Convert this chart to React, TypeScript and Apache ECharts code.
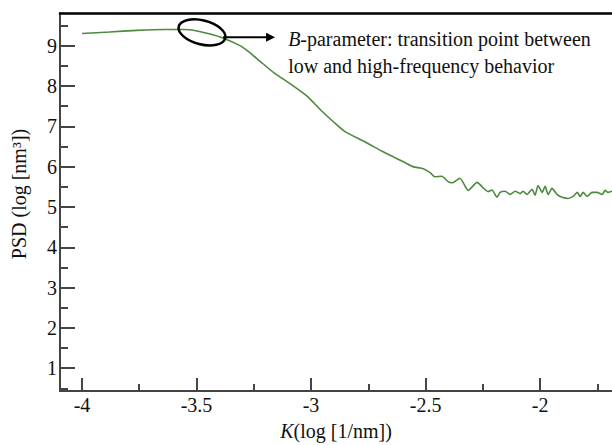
import React, { useEffect, useRef } from "react";
import * as echarts from "echarts";

const kValues = [
  -4.0, -3.88, -3.76, -3.64, -3.55, -3.52, -3.45, -3.38, -3.31, -3.27, -3.22, -3.16, -3.09, -3.02,
  -2.95, -2.9, -2.85, -2.76, -2.69, -2.64, -2.59, -2.555, -2.51, -2.48, -2.46, -2.43, -2.4, -2.384,
  -2.35, -2.314, -2.275, -2.253, -2.227, -2.21, -2.188, -2.175, -2.153, -2.131, -2.109, -2.087,
  -2.074, -2.057, -2.035, -2.022, -2.009, -1.991, -1.978, -1.965, -1.948, -1.926, -1.904, -1.878,
  -1.856, -1.838, -1.825, -1.812, -1.795, -1.773, -1.751, -1.729, -1.716, -1.703, -1.686,
];
const psdValues = [
  9.3, 9.34, 9.38, 9.4, 9.4, 9.39, 9.3, 9.18, 9.0, 8.84, 8.6, 8.32, 8.05, 7.76,
  7.36, 7.1, 6.86, 6.6, 6.38, 6.24, 6.1, 6.0, 5.95, 5.85, 5.75, 5.76, 5.62, 5.6,
  5.71, 5.41, 5.61, 5.5, 5.38, 5.42, 5.24, 5.36, 5.39, 5.31, 5.39, 5.33,
  5.39, 5.31, 5.44, 5.29, 5.53, 5.36, 5.51, 5.31, 5.46, 5.31, 5.24, 5.21,
  5.26, 5.36, 5.26, 5.36, 5.26, 5.36, 5.36, 5.31, 5.41, 5.36, 5.39,
];

const xMajorTicks = [-4, -3.5, -3, -2.5, -2];
const xMinorTicks = [-3.75, -3.25, -2.75, -2.25, -1.75];
const yMajorTicks = [1, 2, 3, 4, 5, 6, 7, 8, 9];
const yMinorTicks = [0.5, 1.5, 2.5, 3.5, 4.5, 5.5, 6.5, 7.5, 8.5, 9.5];

const X_MIN = -4.096;
const X_MAX = -1.686;
const Y_MIN = 0.435;
const Y_MAX = 9.81;

// annotation anchors (data coordinates)
const ellipseCenter = [-3.476, 9.33];
const arrowStart = [-3.384, 9.21];
const arrowEnd = [-3.157, 9.21];
const textLine1 = [-3.1, 9.17];
const textLine2 = [-3.1, 8.5];

const FONT = "'Liberation Serif', 'Times New Roman', serif";
const AXIS_COLOR = "#444";

export default function App() {
  const ref = useRef<HTMLDivElement>(null);
  useEffect(() => {
    if (!ref.current) return;
    const chart = echarts.init(ref.current, null, { renderer: "svg" });
    const data = kValues.map((k, i) => [k, psdValues[i]]);
    const baseX = { type: "value", min: X_MIN, max: X_MAX, splitLine: { show: false } };
    const baseY = { type: "value", min: Y_MIN, max: Y_MAX, splitLine: { show: false } };
    chart.setOption({
      animation: false,
      textStyle: { fontFamily: FONT },
      grid: { left: 60, top: 13, right: 0, bottom: 54, containLabel: false, outerBoundsMode: "none" },
      xAxis: [
        {
          ...baseX,
          position: "bottom",
          axisLine: { show: true, lineStyle: { color: AXIS_COLOR, width: 2 } },
          axisTick: { show: true, inside: true, length: 13, customValues: xMajorTicks, lineStyle: { color: AXIS_COLOR, width: 2 } },
          axisLabel: {
            show: true,
            customValues: xMajorTicks,
            formatter: (v: number) => String(v),
            fontFamily: FONT,
            fontSize: 20,
            color: "#111",
            margin: 4,
          },
          name: "{i|K}(log [1/nm])",
          nameLocation: "middle",
          nameGap: 30,
          nameTextStyle: {
            fontFamily: FONT,
            fontSize: 20,
            color: "#111",
            rich: { i: { fontStyle: "italic", fontFamily: FONT, fontSize: 20, color: "#111" } },
          },
        },
        {
          ...baseX,
          position: "bottom",
          axisLine: { show: false },
          axisTick: { show: true, inside: true, length: 7, customValues: xMinorTicks, lineStyle: { color: AXIS_COLOR, width: 2 } },
          axisLabel: { show: false },
        },
        {
          ...baseX,
          position: "top",
          axisLine: { show: true, lineStyle: { color: "#000", width: 2.5 } },
          axisTick: { show: false },
          axisLabel: { show: false },
        },
      ],
      yAxis: [
        {
          ...baseY,
          position: "left",
          axisLine: { show: true, lineStyle: { color: AXIS_COLOR, width: 2 } },
          axisTick: { show: true, inside: true, length: 15, customValues: yMajorTicks, lineStyle: { color: AXIS_COLOR, width: 2 } },
          axisLabel: {
            show: true,
            customValues: yMajorTicks,
            formatter: (v: number) => String(v),
            fontFamily: FONT,
            fontSize: 20,
            color: "#111",
            margin: 3,
          },
          name: "PSD (log [nm³])",
          nameLocation: "middle",
          nameRotate: 90,
          nameGap: 31,
          nameTextStyle: { fontFamily: FONT, fontSize: 20, color: "#111", padding: [0, 0, 0, 16] },
        },
        {
          ...baseY,
          position: "left",
          axisLine: { show: false },
          axisTick: { show: true, inside: true, length: 8, customValues: yMinorTicks, lineStyle: { color: AXIS_COLOR, width: 2 } },
          axisLabel: { show: false },
        },
      ],
      series: [
        {
          type: "line",
          xAxisIndex: 0,
          yAxisIndex: 0,
          data,
          showSymbol: false,
          smooth: 0.2,
          lineStyle: { color: "#4c8a3d", width: 1.6 },
          silent: true,
        },
      ],
    });

    const px = (p: number[]) => chart.convertToPixel({ xAxisIndex: 0, yAxisIndex: 0 }, p) as number[];
    const ec = px(ellipseCenter);
    const as = px(arrowStart);
    const ae = px(arrowEnd);
    const t1 = px(textLine1);
    const t2 = px(textLine2);
    chart.setOption({
      graphic: [
        {
          type: "ellipse",
          x: ec[0],
          y: ec[1],
          rotation: -0.25,
          shape: { cx: 0, cy: 0, rx: 24, ry: 12 },
          style: { fill: "none", stroke: "#000", lineWidth: 2.5 },
          z: 100,
        },
        {
          type: "line",
          shape: { x1: as[0], y1: as[1], x2: ae[0] - 8, y2: ae[1] },
          style: { stroke: "#000", lineWidth: 2 },
          z: 100,
        },
        {
          type: "polygon",
          shape: { points: [[ae[0] - 9, ae[1] - 4.5], [ae[0], ae[1]], [ae[0] - 9, ae[1] + 4.5]] },
          style: { fill: "#000" },
          z: 100,
        },
        {
          type: "text",
          x: t1[0],
          y: t1[1],
          style: {
            text: "{i|B}-parameter: transition point between",
            fontFamily: FONT,
            fontSize: 20,
            fill: "#111",
            verticalAlign: "middle",
            align: "left",
            rich: { i: { fontStyle: "italic", fontFamily: FONT, fontSize: 20, fill: "#111" } },
          },
          z: 100,
        },
        {
          type: "text",
          x: t2[0],
          y: t2[1],
          style: {
            text: "low and high-frequency behavior",
            fontFamily: FONT,
            fontSize: 20,
            fill: "#111",
            verticalAlign: "middle",
            align: "left",
          },
          z: 100,
        },
      ],
    });
    return () => chart.dispose();
  }, []);
  return (
    <div
      ref={ref}
      style={{ position: "fixed", left: 0, top: 0, width: 612, height: 445, background: "#fff" }}
    />
  );
}
